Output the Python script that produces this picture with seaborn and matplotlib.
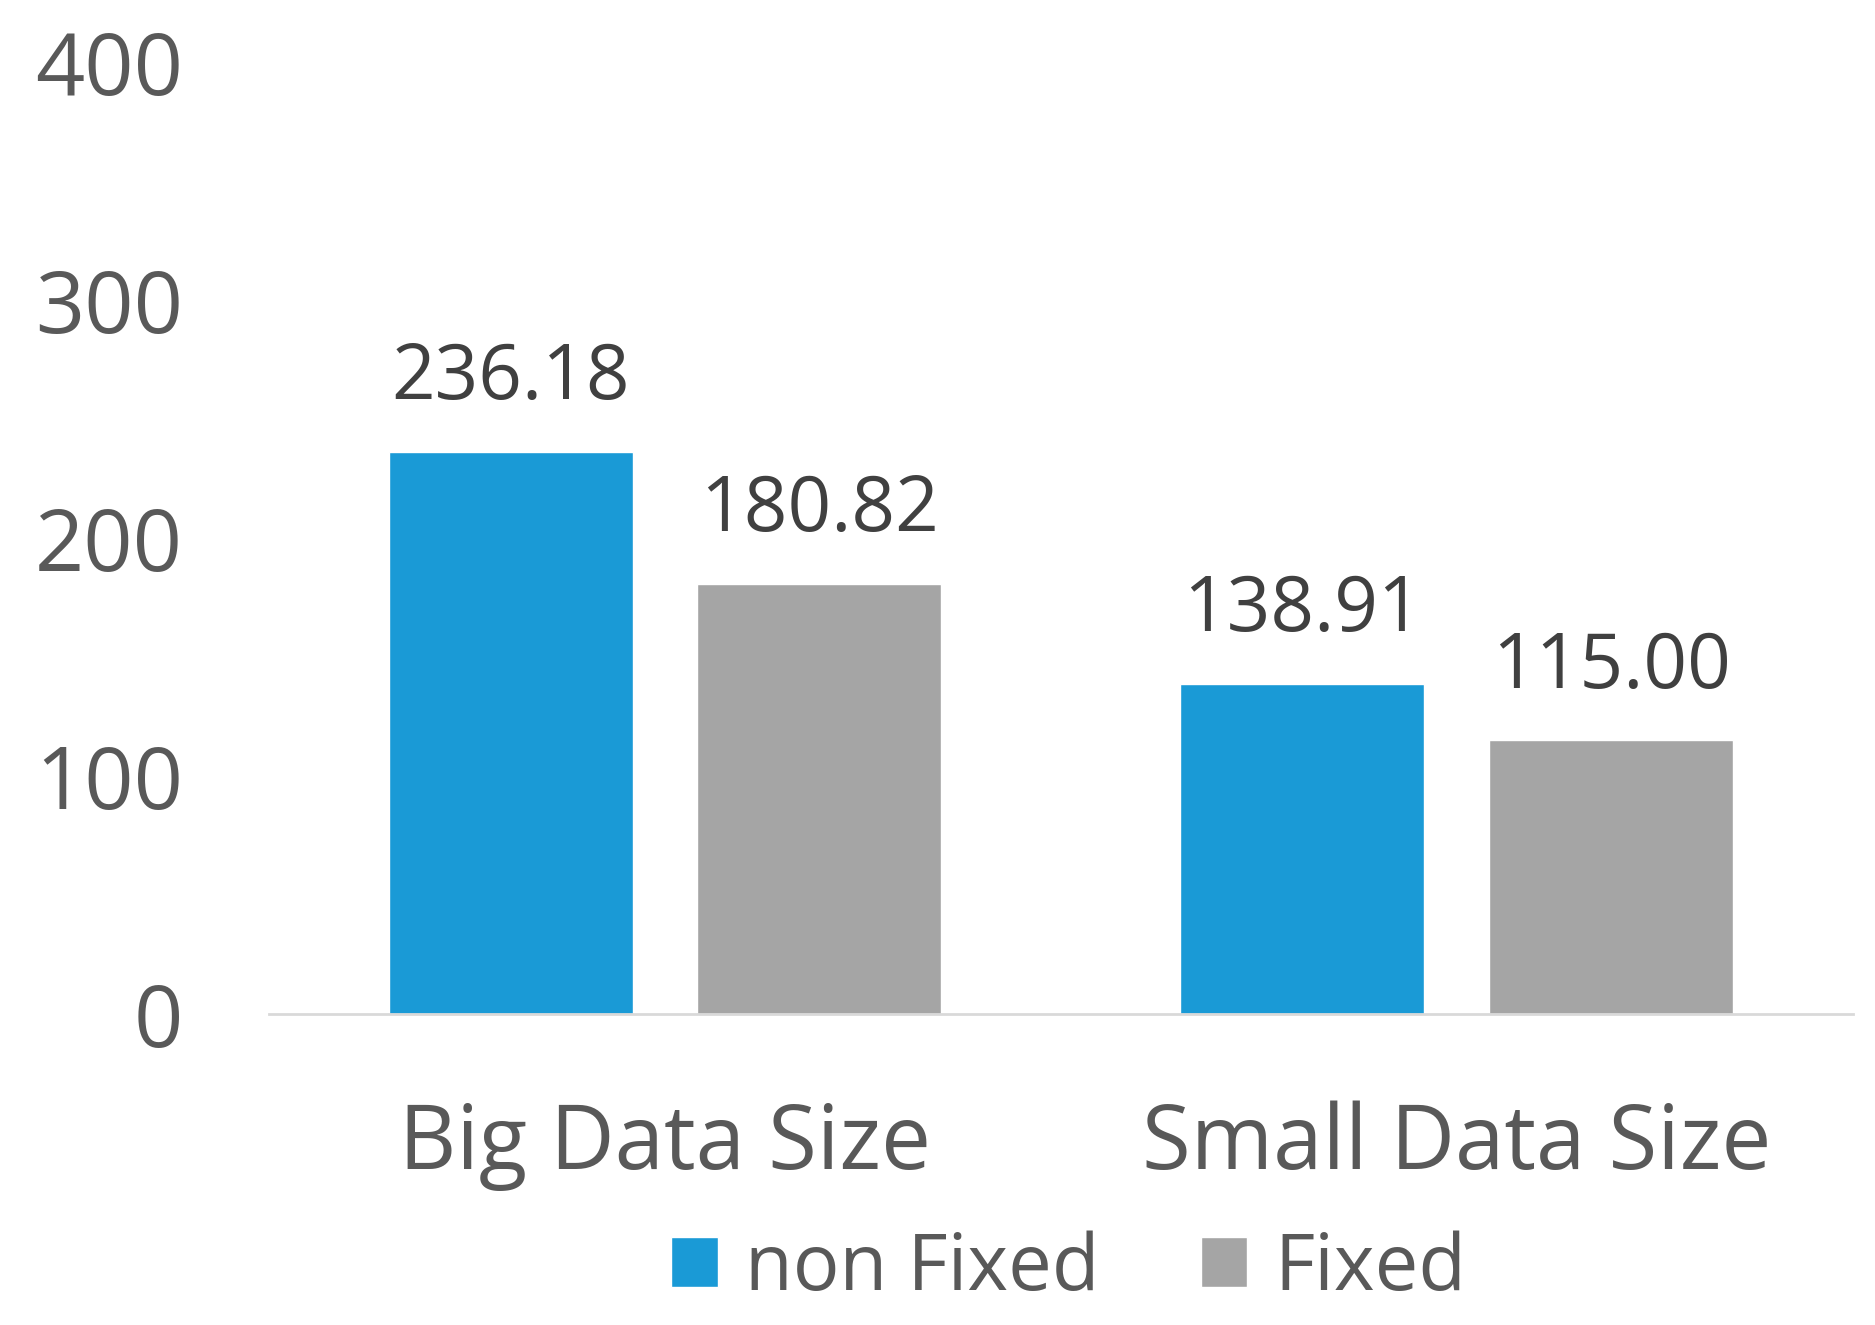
import matplotlib
matplotlib.use("Agg")
import matplotlib.pyplot as plt
import seaborn as sns
import pandas as pd

categories = ["Big Data Size", "Small Data Size"]
series_names = ["non Fixed", "Fixed"]
non_fixed = [236.18, 138.91]
fixed = [180.82, 115.00]
yticks = [0, 100, 200, 300, 400]

df = pd.DataFrame({
    "category": categories * 2,
    "series": [series_names[0]] * 2 + [series_names[1]] * 2,
    "value": non_fixed + fixed,
})

sns.set_theme(style="white")
plt.rcParams["font.family"] = ["Open Sans", "DejaVu Sans"]

fig = plt.figure(figsize=(18.75, 13.25), dpi=100)
ax = fig.add_axes([0.1435, 0.2347, 0.8445, 0.7183])

palette = {"non Fixed": "#1a9ad6", "Fixed": "#a5a5a5"}
sns.barplot(data=df, x="category", y="value", hue="series", order=categories,
            hue_order=series_names, palette=palette, width=0.78, gap=0.21,
            saturation=1, ax=ax, legend=True)

for cont in ax.containers:
    ax.bar_label(cont, fmt="%.2f", padding=25, fontsize=55, color="#404040")

ax.set_xlim(-0.5, 1.5)
ax.set_ylim(0, 400)
ax.set_yticks(yticks)
ax.set_xlabel("")
ax.set_ylabel("")
for s in ["left", "right", "top"]:
    ax.spines[s].set_visible(False)
ax.spines["bottom"].set_color("#d9d9d9")
ax.spines["bottom"].set_linewidth(2)
ax.tick_params(axis="y", length=0, pad=62, labelsize=62, labelcolor="#595959")
ax.tick_params(axis="x", length=0, pad=62, labelsize=64, labelcolor="#595959")
ax.grid(False)

leg = ax.legend(loc="center", bbox_to_anchor=(0.505, -0.268), ncol=2, frameon=False,
                fontsize=56, handlelength=0.6, handleheight=0.6, handletextpad=0.35,
                columnspacing=1.3, labelcolor="#595959")

fig.savefig("out.png", dpi=100)
